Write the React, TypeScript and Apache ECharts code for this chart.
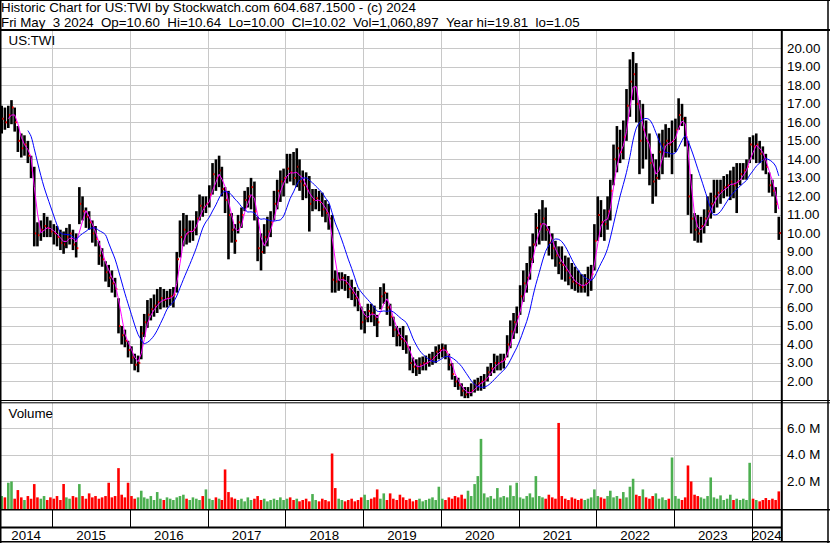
import React, { useEffect, useRef } from 'react';
import * as echarts from 'echarts';

const TITLE_LINE_1 = 'Historic Chart for US:TWI by Stockwatch.com 604.687.1500 - (c) 2024';
const TITLE_LINE_2 =
  'Fri May \u00a03 2024 \u00a0Op=10.60 \u00a0Hi=10.64 \u00a0Lo=10.00 \u00a0Cl=10.02 \u00a0Vol=1,060,897 \u00a0Year hi=19.81 \u00a0lo=1.05';
const SYMBOL_LABEL = 'US:TWI';
const VOLUME_LABEL = 'Volume';

const YEARS = [2014, 2015, 2016, 2017, 2018, 2019, 2020, 2021, 2022, 2023, 2024];
const PRICE_TICKS = [2, 3, 4, 5, 6, 7, 8, 9, 10, 11, 12, 13, 14, 15, 16, 17, 18, 19, 20];
const VOLUME_TICKS_M = [2, 4, 6];

// Semi-monthly bars, May 2014 .. May 2024 (high / low / close)
const HIGH = [
  16.9, 16.8, 16.9, 17.2, 16.8, 15.8, 15.4, 15.3, 15.0, 14.2, 13.6, 10.6,
  10.7, 11.1, 10.9, 10.7, 10.5, 10.4, 10.2, 10.1, 10.3, 10.5, 10.2, 10.0,
  12.5, 12.0, 11.4, 11.2, 10.7, 10.4, 9.6, 9.2, 8.5, 8.3, 8.0, 7.6,
  6.5, 5.0, 4.8, 4.2, 3.9, 3.5, 3.4, 5.0, 5.65, 6.4, 6.5, 6.7,
  7.0, 7.1, 7.0, 6.9, 7.0, 7.1, 9.0, 10.7, 11.1, 11.0, 10.7, 10.7,
  11.2, 12.1, 12.0, 12.0, 12.6, 13.8, 14.0, 14.2, 13.6, 12.5, 12.3, 11.1,
  10.5, 11.0, 11.4, 12.3, 12.5, 13.0, 12.8, 10.9, 10.0, 10.5, 10.9, 11.2,
  12.3, 12.9, 13.4, 13.5, 14.3, 14.3, 14.4, 14.6, 14.0, 13.4, 13.3, 13.1,
  12.4, 12.4, 12.3, 12.2, 11.8, 11.6, 11.0, 8.0, 7.9, 7.9, 7.8, 7.7,
  7.5, 7.1, 6.9, 6.05, 5.8, 6.2, 6.2, 6.1, 5.6, 7.1, 7.3, 6.8,
  6.2, 5.5, 5.0, 4.9, 5.0, 4.5, 3.9, 3.3, 3.2, 3.3, 3.35, 3.4,
  3.5, 3.6, 3.9, 4.0, 4.05, 4.0, 3.5, 3.0, 2.3, 2.2, 1.9, 1.7,
  1.7, 1.9, 2.1, 2.2, 2.3, 2.4, 2.8, 3.0, 3.5, 3.4, 3.5, 3.5,
  4.5, 5.3, 5.7, 6.05, 7.2, 8.0, 8.4, 9.3, 10.0, 11.1, 11.3, 11.8,
  11.4, 10.4, 10.0, 9.6, 9.3, 9.3, 8.8, 8.7, 8.4, 8.2, 8.0, 7.8,
  7.8, 8.2, 8.3, 10.5, 12.0, 11.8, 11.3, 12.0, 12.9, 14.8, 15.8, 15.6,
  16.1, 17.8, 19.4, 19.8, 19.2, 17.2, 17.0, 16.1, 15.4, 14.3, 14.0, 15.4,
  15.6, 15.9, 15.7, 16.1, 16.2, 17.3, 17.0, 16.3, 15.0, 13.2, 11.1, 11.0,
  10.9, 11.3, 12.0, 12.2, 12.9, 12.9, 12.9, 13.1, 13.2, 13.4, 13.6, 13.8,
  13.8, 13.8, 14.0, 15.2, 15.3, 15.4, 15.0, 14.7, 14.3, 13.3, 12.9, 12.5, 10.9,
];
const LOW = [
  15.4, 15.6, 15.7, 15.9, 15.5, 14.4, 14.1, 14.2, 13.8, 13.0, 9.3, 9.3,
  9.6, 9.8, 9.8, 9.8, 9.4, 9.3, 9.1, 8.9, 9.2, 9.4, 9.1, 8.7,
  10.5, 10.7, 10.3, 10.2, 9.5, 9.3, 8.3, 8.2, 7.4, 7.1, 6.8, 6.55,
  4.6, 4.0, 3.85, 3.3, 2.95, 2.6, 2.5, 3.2, 4.4, 4.9, 5.3, 5.5,
  5.7, 5.9, 6.0, 6.0, 6.1, 6.0, 6.8, 8.7, 9.3, 9.4, 9.5, 9.6,
  9.9, 10.7, 10.9, 11.1, 11.4, 12.1, 12.3, 12.5, 12.0, 11.1, 8.6, 9.5,
  8.9, 10.0, 10.3, 11.2, 11.4, 11.3, 10.7, 8.5, 8.0, 8.9, 9.3, 9.8,
  10.7, 11.3, 11.7, 12.0, 12.7, 12.8, 12.6, 12.5, 12.3, 11.8, 11.9, 10.1,
  11.2, 11.3, 11.2, 10.9, 10.6, 10.2, 6.8, 6.8, 6.9, 7.0, 6.9, 6.5,
  6.4, 6.05, 5.8, 4.8, 4.6, 5.2, 5.2, 5.0, 4.4, 5.9, 6.2, 5.6,
  5.0, 4.4, 3.9, 3.9, 3.7, 3.5, 2.6, 2.45, 2.3, 2.4, 2.6, 2.6,
  2.8, 2.9, 3.0, 3.2, 3.3, 3.2, 2.6, 2.1, 1.7, 1.55, 1.2, 1.1,
  1.1, 1.2, 1.4, 1.5, 1.5, 1.6, 2.0, 2.3, 2.45, 2.6, 2.6, 2.7,
  3.3, 3.8, 4.3, 4.6, 5.6, 6.3, 6.8, 7.5, 8.4, 9.3, 9.4, 9.6,
  9.6, 8.8, 8.6, 8.2, 7.8, 7.5, 7.4, 7.2, 7.0, 6.9, 6.8, 6.8,
  6.8, 6.6, 6.9, 8.0, 9.6, 9.8, 9.6, 10.2, 10.7, 12.6, 13.3, 13.8,
  14.0, 15.0, 16.3, 17.2, 16.0, 13.2, 13.5, 14.0, 12.6, 11.6, 12.0, 12.9,
  13.2, 14.1, 14.1, 13.2, 14.4, 15.6, 15.8, 14.7, 11.0, 10.0, 9.6, 9.5,
  9.5, 10.0, 10.4, 10.8, 11.1, 11.4, 11.6, 11.9, 12.0, 11.8, 11.9, 11.1,
  12.6, 12.9, 12.9, 13.8, 14.0, 13.8, 13.8, 13.4, 13.2, 12.2, 12.0, 11.1, 9.65,
];
const CLOSE = [
  16.2, 16.0, 16.4, 16.8, 16.0, 15.0, 14.6, 14.8, 14.2, 13.4, 10.0, 9.9,
  10.2, 10.4, 10.3, 10.1, 10.0, 9.8, 9.5, 9.4, 9.8, 10.0, 9.4, 9.2,
  11.6, 11.2, 10.9, 10.6, 10.0, 9.7, 8.8, 8.6, 7.9, 7.6, 7.3, 7.0,
  5.0, 4.5, 4.2, 3.7, 3.3, 2.9, 3.0, 4.6, 5.2, 5.6, 5.9, 6.1,
  6.3, 6.5, 6.4, 6.5, 6.6, 6.7, 8.6, 9.8, 10.2, 10.0, 10.1, 10.2,
  10.8, 11.5, 11.4, 11.6, 12.1, 13.2, 13.0, 13.4, 12.4, 11.8, 11.0, 10.2,
  9.6, 10.6, 11.0, 11.8, 12.0, 12.5, 11.2, 9.2, 9.0, 9.8, 10.1, 10.6,
  11.6, 12.3, 12.8, 13.0, 13.5, 13.3, 13.0, 13.6, 12.8, 12.6, 12.4, 11.6,
  11.8, 11.9, 11.7, 11.3, 11.1, 10.8, 7.5, 7.4, 7.5, 7.6, 7.3, 7.0,
  6.8, 6.5, 6.2, 5.2, 5.4, 5.8, 5.7, 5.4, 5.2, 6.6, 6.8, 6.0,
  5.5, 4.8, 4.5, 4.3, 4.2, 3.9, 3.0, 2.8, 2.7, 2.9, 3.0, 3.0,
  3.2, 3.3, 3.6, 3.7, 3.8, 3.6, 2.9, 2.4, 2.0, 1.8, 1.5, 1.3,
  1.4, 1.5, 1.8, 1.9, 2.0, 2.1, 2.5, 2.7, 3.0, 3.0, 3.1, 3.2,
  4.0, 4.7, 5.2, 5.5, 6.6, 7.3, 7.6, 8.6, 9.4, 10.3, 10.5, 10.8,
  10.2, 9.5, 9.2, 8.8, 8.4, 8.3, 8.0, 7.6, 7.4, 7.3, 7.2, 7.1,
  7.3, 7.5, 7.8, 9.6, 11.0, 10.6, 10.5, 11.2, 12.3, 14.0, 14.6, 14.4,
  15.2, 16.9, 18.2, 18.6, 17.0, 15.0, 15.6, 15.0, 13.8, 12.8, 13.0, 14.4,
  14.8, 15.0, 14.8, 15.0, 15.6, 16.4, 16.2, 15.2, 12.0, 10.8, 10.2, 10.0,
  10.4, 10.8, 11.2, 11.6, 12.0, 12.2, 12.3, 12.5, 12.6, 12.8, 12.6, 12.8,
  13.2, 13.4, 13.6, 14.8, 14.7, 14.8, 14.3, 14.0, 13.6, 12.6, 12.3, 11.6, 10.02,
];
// Volume per bar, millions of shares
const VOLUME_M = [
  0.9, 0.8, 1.9, 2.0, 0.7, 1.35, 0.8, 0.6, 0.9, 0.7, 1.8, 0.8,
  0.7, 0.9, 0.6, 0.8, 0.7, 0.9, 0.6, 1.8, 0.8, 0.7, 0.9, 0.8,
  1.8, 0.9, 0.7, 1.1, 0.8, 0.9, 0.7, 0.8, 0.9, 1.9, 0.8, 0.9,
  3.0, 1.0, 0.8, 1.9, 0.9, 0.7, 0.8, 1.3, 0.8, 0.7, 0.9, 0.6,
  1.2, 0.7, 0.6, 0.8, 0.7, 0.6, 0.8, 0.9, 1.0, 0.7, 0.6, 0.8,
  0.7, 0.6, 0.9, 1.4, 0.7, 0.6, 0.8, 0.7, 0.6, 2.9, 1.2, 0.8,
  0.7, 0.6, 0.7, 0.5, 0.8, 0.6, 0.7, 0.9, 0.6, 0.7, 0.5, 0.6,
  0.7, 0.6, 0.8, 0.6, 0.7, 0.8, 0.6, 0.7, 0.5, 0.6, 0.7, 0.5,
  1.05, 0.6, 0.5, 0.7, 0.6, 0.5, 4.1, 1.5, 0.7, 0.6, 0.5, 0.6,
  0.7, 0.5, 0.6, 0.8, 1.0, 0.6, 0.7, 0.8, 1.4, 0.7, 1.1, 0.6,
  1.1, 0.7, 0.6, 1.0, 0.8, 0.6, 0.7, 0.5, 0.6, 0.7, 0.5, 0.6,
  0.7, 0.8, 0.6, 1.6, 0.7, 0.6, 0.8, 0.7, 0.9, 0.8, 1.0, 0.7,
  1.3, 0.9, 1.8, 2.4, 5.2, 1.1, 0.8, 0.9, 0.7, 1.5, 0.8, 0.9,
  0.8, 1.7, 0.9, 1.9, 0.8, 0.7, 0.9, 1.1, 0.8, 2.4, 0.9, 0.8,
  0.7, 1.0, 0.8, 0.7, 6.4, 0.9, 0.7, 0.6, 0.8, 0.7, 0.6, 0.7,
  0.6, 0.7, 0.8, 1.4, 0.9, 0.8, 0.7, 0.9, 1.3, 0.8, 0.9, 0.7,
  1.2, 0.8, 1.6, 2.2, 1.0, 0.9, 1.4, 0.8, 0.7, 0.9, 1.1, 0.7,
  0.8, 0.6, 0.7, 3.8, 0.9, 0.7, 0.6, 0.8, 3.2, 2.0, 1.0, 0.9,
  0.8, 0.7, 0.9, 2.3, 0.8, 0.7, 0.95, 0.6, 0.7, 1.0, 0.6, 0.7,
  0.6, 0.7, 0.6, 3.4, 0.7, 0.6, 0.5, 0.6, 0.75, 0.6, 0.7, 0.6, 1.25,
];

const FONT = '"Liberation Sans", Arial, Helvetica, sans-serif';
const FS = 13.33;
const GRID_GRAY = '#c8c8c8';
const RED = '#ff0000';
const GREEN = '#4caf50';
const X_MIN = Date.UTC(2014, 3, 30);
const X_MAX = Date.UTC(2024, 4, 23);

function periodDate(i: number) {
  const m = 4 + Math.floor(i / 2);
  const y = 2014 + Math.floor(m / 12);
  return Date.UTC(y, m % 12, i % 2 === 0 ? 8 : 23);
}

function sma(values: number[], n: number) {
  return values.map((_, i) => {
    if (i < n - 1) return null;
    let s = 0;
    for (let k = i - n + 1; k <= i; k++) s += values[k];
    return s / n;
  });
}

function buildOption() {
  const dates = CLOSE.map((_, i) => periodDate(i));
  const fast = sma(CLOSE, 3);
  const slow = sma(CLOSE, 9);
  const priceData = dates.map((t, i) => [t, HIGH[i], LOW[i], CLOSE[i]]);
  const volData = dates.map((t, i) => [t, VOLUME_M[i] * 1e6, i === 0 || CLOSE[i] >= CLOSE[i - 1] ? 1 : 0]);
  const yearStarts = YEARS.slice(1).map((y) => Date.UTC(y, 0, 1));

  const yearLine = (gridIdx: number, midVal: number, color: string) => ({
    type: 'custom',
    xAxisIndex: gridIdx,
    yAxisIndex: gridIdx,
    z: 1,
    silent: true,
    data: yearStarts.map((t) => [t, midVal]),
    encode: { x: 0, y: 1 },
    renderItem: (params: any, api: any) => {
      const x = Math.round(api.coord([api.value(0), midVal])[0]) + 0.5;
      const cs = params.coordSys;
      return {
        type: 'line',
        shape: { x1: x, y1: cs.y, x2: x, y2: cs.y + cs.height },
        style: { stroke: color, lineWidth: 1 },
      };
    },
  });

  const hline = (x1: number, y: number, x2: number, w: number) => ({
    type: 'line',
    z: 100,
    silent: true,
    shape: { x1, y1: y, x2, y2: y },
    style: { stroke: '#000', lineWidth: w },
  });
  const vline = (x: number, y1: number, y2: number, w: number) => ({
    type: 'line',
    z: 100,
    silent: true,
    shape: { x1: x, y1, x2: x, y2 },
    style: { stroke: '#000', lineWidth: w },
  });
  const label = (text: string, x: number, y: number) => ({
    type: 'text',
    z: 101,
    x,
    y,
    style: { text, fontSize: FS, fontFamily: FONT, fill: '#000', verticalAlign: 'middle', align: 'left' },
  });

  const hiddenX = (gridIndex: number) => ({
    gridIndex,
    type: 'time',
    min: X_MIN,
    max: X_MAX,
    show: false,
    splitLine: { show: false },
  });

  return {
    animation: false,
    backgroundColor: '#fff',
    grid: [
      { left: 0, top: 29.8, width: 782, height: 370.2 },
      { left: 0, top: 403, width: 782, height: 105 },
      { left: 0, top: 510, width: 782, height: 32 },
    ],
    xAxis: [hiddenX(0), hiddenX(1), hiddenX(2)],
    yAxis: [
      {
        gridIndex: 0,
        type: 'value',
        position: 'right',
        min: 1,
        max: 21,
        interval: 1,
        axisLine: { show: false },
        axisTick: { show: false },
        splitLine: { show: true, showMinLine: false, showMaxLine: false, lineStyle: { color: GRID_GRAY, width: 1 } },
        axisLabel: {
          margin: 5,
          align: 'left',
          fontSize: FS,
          fontFamily: FONT,
          color: '#000',
          formatter: (v: number) => {
            const k = Math.round(v);
            return Math.abs(v - k) < 1e-6 && PRICE_TICKS.includes(k) ? k.toFixed(2) : '';
          },
        },
      },
      {
        gridIndex: 1,
        type: 'value',
        position: 'right',
        min: 0,
        max: 7.9e6,
        interval: 2e6,
        axisLine: { show: false },
        axisTick: { show: false },
        splitLine: { show: true, showMinLine: false, showMaxLine: false, lineStyle: { color: GRID_GRAY, width: 1 } },
        axisLabel: {
          margin: 5,
          align: 'left',
          fontSize: FS,
          fontFamily: FONT,
          color: '#000',
          showMaxLabel: false,
          formatter: (v: number) => {
            const k = Math.round(v / 1e6);
            return Math.abs(v / 1e6 - k) < 1e-6 && VOLUME_TICKS_M.includes(k) ? `${k.toFixed(1)} M` : '';
          },
        },
      },
      { gridIndex: 2, type: 'value', min: 0, max: 1, show: false },
    ],
    series: [
      yearLine(0, 10, GRID_GRAY),
      yearLine(1, 1e6, GRID_GRAY),
      {
        type: 'custom',
        name: 'Price',
        xAxisIndex: 0,
        yAxisIndex: 0,
        z: 3,
        data: priceData,
        encode: { x: 0, y: [1, 2, 3] },
        renderItem: (params: any, api: any) => {
          const t = api.value(0);
          const top = api.coord([t, api.value(1)]);
          const bot = api.coord([t, api.value(2)]);
          const c = api.coord([t, api.value(3)]);
          return {
            type: 'group',
            children: [
              {
                type: 'rect',
                shape: { x: top[0] - 1.3, y: top[1], width: 2.6, height: Math.max(1, bot[1] - top[1]) },
                style: { fill: '#000' },
              },
              {
                type: 'rect',
                shape: { x: c[0] + 0.6, y: c[1] - 1, width: 1.6, height: 2 },
                style: { fill: RED },
              },
            ],
          };
        },
      },
      {
        type: 'line',
        name: 'MA fast',
        xAxisIndex: 0,
        yAxisIndex: 0,
        z: 4,
        silent: true,
        showSymbol: false,
        symbol: 'none',
        data: dates.map((t, i) => [t, fast[i] === null ? '-' : fast[i]]),
        lineStyle: { color: '#ff00ff', width: 1 },
      },
      {
        type: 'line',
        name: 'MA slow',
        xAxisIndex: 0,
        yAxisIndex: 0,
        z: 4,
        silent: true,
        showSymbol: false,
        symbol: 'none',
        smooth: 0.3,
        data: dates.map((t, i) => [t, slow[i] === null ? '-' : slow[i]]),
        lineStyle: { color: '#0000ff', width: 1 },
      },
      {
        type: 'custom',
        name: 'Volume',
        xAxisIndex: 1,
        yAxisIndex: 1,
        z: 3,
        data: volData,
        encode: { x: 0, y: 1 },
        renderItem: (params: any, api: any) => {
          const t = api.value(0);
          const top = api.coord([t, api.value(1)]);
          const base = api.coord([t, 0]);
          return {
            type: 'rect',
            shape: { x: top[0] - 1.3, y: top[1], width: 2.6, height: base[1] - top[1] + 1 },
            style: { fill: api.value(2) ? GREEN : RED },
          };
        },
      },
      {
        type: 'custom',
        name: 'Year dividers',
        xAxisIndex: 2,
        yAxisIndex: 2,
        z: 5,
        silent: true,
        data: yearStarts.map((t) => [t, 0.5]),
        encode: { x: 0, y: 1 },
        renderItem: (params: any, api: any) => {
          const x = Math.round(api.coord([api.value(0), 0.5])[0]) + 0.5;
          const cs = params.coordSys;
          const last = params.dataIndex === yearStarts.length - 1;
          return {
            type: 'line',
            shape: { x1: x, y1: cs.y, x2: x, y2: last ? cs.y + cs.height : cs.y + 17 },
            style: { stroke: '#000', lineWidth: 1 },
          };
        },
      },
      {
        type: 'custom',
        name: 'Year labels',
        xAxisIndex: 2,
        yAxisIndex: 2,
        z: 5,
        silent: true,
        data: YEARS.map((y) => [Date.UTC(y, 6, 1), 0.2, y]),
        encode: { x: 0, y: 1 },
        renderItem: (params: any, api: any) => {
          const y = api.value(2);
          const start = Math.max(Date.UTC(y, 0, 1), X_MIN);
          const end = Math.min(Date.UTC(y + 1, 0, 1), X_MAX);
          const cx = (api.coord([start, 0.2])[0] + api.coord([end, 0.2])[0]) / 2;
          const cs = params.coordSys;
          return {
            type: 'text',
            x: cx,
            y: cs.y + 25,
            style: {
              text: String(y),
              align: 'center',
              verticalAlign: 'middle',
              fontSize: FS,
              fontFamily: FONT,
              fill: '#000',
            },
          };
        },
      },
    ],
    graphic: [
      label(TITLE_LINE_1, 1, 7.9),
      label(TITLE_LINE_2, 1, 22.0),
      label(SYMBOL_LABEL, 8.5, 40.5),
      label(VOLUME_LABEL, 8.5, 413.5),
      hline(0, 0.5, 830, 1),
      vline(0.75, 0, 543, 1.5),
      vline(828, 0, 543, 1.5),
      hline(0, 541.75, 830, 1.5),
      hline(0, 30, 830, 2),
      vline(781.8, 30, 542, 2),
      hline(0, 400.5, 830, 1),
      hline(0, 402.8, 830, 1),
      hline(0, 509.7, 830, 1.5),
      hline(0, 527.5, 782, 2),
    ],
  };
}

export default function App() {
  const ref = useRef<HTMLDivElement>(null);
  useEffect(() => {
    const el = ref.current;
    if (!el) return;
    const chart = echarts.init(el, undefined, { renderer: 'svg', width: 830, height: 543 });
    chart.setOption(buildOption() as any);
    return () => chart.dispose();
  }, []);
  return (
    <div
      ref={ref}
      style={{ position: 'fixed', left: 0, top: 0, width: 830, height: 543, background: '#fff' }}
    />
  );
}
